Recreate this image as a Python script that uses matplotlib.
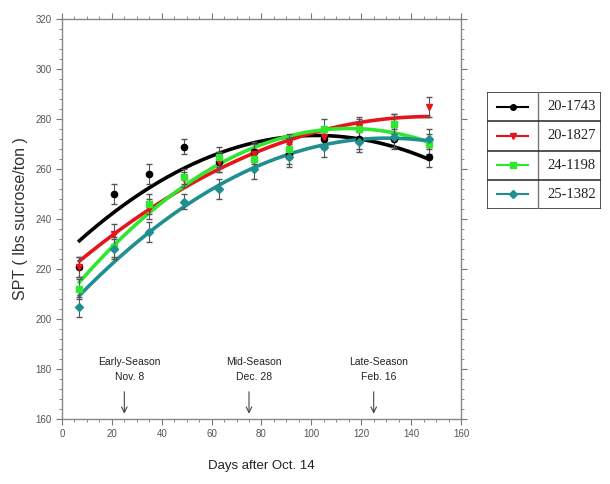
import numpy as np
import matplotlib.pyplot as plt
from matplotlib.lines import Line2D
from matplotlib.ticker import MultipleLocator

plt.rcParams['font.family'] = ['Liberation Sans', 'DejaVu Sans']

days = [7, 21, 35, 49, 63, 77, 91, 105, 119, 133, 147]

spt_1743 = [221, 250, 258, 269, 263, 267, 266, 272, 272, 272, 265]
spt_1827 = [221, 234, 244, 256, 263, 266, 270, 273, 277, 278, 285]
spt_1198 = [212, 229, 246, 257, 265, 264, 268, 276, 276, 278, 270]
spt_1382 = [205, 228, 235, 247, 252, 260, 265, 269, 271, 273, 272]
err = [4, 4, 4, 3, 4, 4, 4, 4, 4, 4, 4]

names = ['20-1743', '20-1827', '24-1198', '25-1382']
colors = ['black', '#e8141c', '#2ee82e', '#1f8f8f']
markers = ['o', 'v', 's', 'D']
series = [spt_1743, spt_1827, spt_1198, spt_1382]

seasons = ['Early-Season\nNov. 8', 'Mid-Season\nDec. 28', 'Late-Season\nFeb. 16']
season_days = [25, 75, 125]

fig = plt.figure(figsize=(6.1, 4.84), dpi=100)
ax = fig.add_axes([0.1016, 0.1343, 0.6541, 0.8264])

# quadratic regression through each clone's means
xs = np.linspace(days[0], days[-1], 200)
for vals, c, m in zip(series, colors, markers):
    ax.errorbar(days, vals, yerr=err, fmt=m, color=c, ms=4.5,
                ecolor='#555555', elinewidth=0.8, capsize=2, zorder=3)
    coef = np.polyfit(days, vals, 2)
    ax.plot(xs, np.polyval(coef, xs), color=c, lw=2.6, zorder=2)

for lab, d in zip(seasons, season_days):
    ax.annotate('', xy=(d, 161), xytext=(d, 172),
                arrowprops=dict(arrowstyle='->', color='#444444', lw=0.8))
    ax.text(d + 2, 175, lab, ha='center', va='bottom', fontsize=7.5,
            color='#222222', linespacing=1.6)

ax.set_xlim(0, 160)
ax.set_ylim(160, 320)
ax.xaxis.set_major_locator(MultipleLocator(20))
ax.xaxis.set_minor_locator(MultipleLocator(5))
ax.yaxis.set_major_locator(MultipleLocator(20))
ax.yaxis.set_minor_locator(MultipleLocator(4))
ax.tick_params(which='both', direction='out', top=True, right=True,
               colors='#777777', labelcolor='#555555', labelsize=7)
ax.tick_params(which='major', length=4)
ax.tick_params(which='minor', length=2)
for s in ax.spines.values():
    s.set_color('#888888')
    s.set_linewidth(1.0)

ax.set_xlabel('Days after Oct. 14', fontsize=9.5, color='#222222', labelpad=15)
ax.set_ylabel('SPT ( lbs sucrose/ton )', fontsize=11.5, color='#333333', labelpad=5)

# legend drawn as a small table to the right
lg = fig.add_axes([487 / 610, 1 - 209 / 484, 114 / 610, 117 / 484])
lg.set_xlim(0, 1)
lg.set_ylim(0, 4)
lg.axis('off')
lg.add_patch(plt.Rectangle((0, 0), 1, 4, fill=False, ec='#333333', lw=1.2))
lg.axvline(0.45, color='#777777', lw=1.0)
for k in range(1, 4):
    lg.axhline(k, color='#333333', lw=1.2)
for i, (n, c, m) in enumerate(zip(names, colors, markers)):
    yy = 3.5 - i
    lg.add_line(Line2D([0.09, 0.225, 0.36], [yy, yy, yy], color=c, lw=1.5,
                       marker=m, markevery=[1], ms=4))
    lg.text(0.53, yy, n, va='center', ha='left', fontsize=10.5,
            family=['Liberation Serif', 'DejaVu Serif'], color='#222222')

fig.savefig('out.png', dpi=100)
